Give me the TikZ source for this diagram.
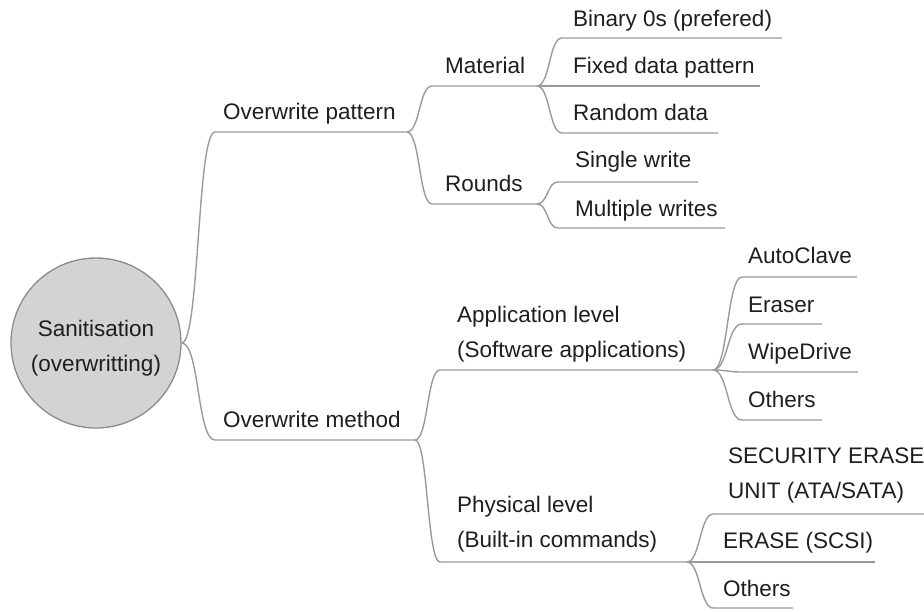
\documentclass[tikz,border=0pt]{standalone}
\usepackage{fontspec}
\setmainfont{Liberation Sans}
\definecolor{linecol}{HTML}{9A9A9A}
\definecolor{txt}{HTML}{1E1E1E}
\definecolor{rootfill}{HTML}{D3D3D3}
\definecolor{rootborder}{HTML}{8C8C8C}
\begin{document}
\begin{tikzpicture}[x=1pt,y=-1pt,
  lbl/.style={anchor=base west, inner sep=0pt, text=txt, font=\fontsize{22.5}{35}\selectfont, align=left},
  conn/.style={draw=linecol, line width=1.4pt},
  rootnode/.style={circle, fill=rootfill, draw=rootborder, line width=1.3pt, minimum size=170pt, inner sep=0pt},
  roottext/.style={anchor=base, inner sep=0pt, text=txt, font=\fontsize{22.5}{35}\selectfont, align=center}
]
\useasboundingbox (0,0) rectangle (924,611);
\node[rootnode] (root) at (96,343) {};
\node[roottext] (rootlbl) at (96,371) {Sanitisation\\(overwritting)};

% level 1
\node[lbl] (op) at (223,119) {Overwrite pattern};
\coordinate (op-s) at (215,132); \coordinate (op-e) at (407,132);
\node[lbl] (om) at (223,427) {Overwrite method};
\coordinate (om-s) at (215,440); \coordinate (om-e) at (415,440);

% level 2
\node[lbl] (mat) at (445,73) {Material};
\coordinate (mat-s) at (432,86); \coordinate (mat-e) at (537,86);
\node[lbl] (rnd) at (445,191) {Rounds};
\coordinate (rnd-s) at (432,204); \coordinate (rnd-e) at (537,204);
\node[lbl] (app) at (457,357) {Application level\\(Software applications)};
\coordinate (app-s) at (440,370); \coordinate (app-e) at (713,370);
\node[lbl] (phy) at (457,547) {Physical level\\(Built-in commands)};
\coordinate (phy-s) at (440,562); \coordinate (phy-e) at (687,562);

% level 3
\node[lbl] (bin) at (573,26) {Binary 0s (prefered)};
\coordinate (bin-s) at (562,38); \coordinate (bin-e) at (782,38);
\node[lbl] (fix) at (573,73) {Fixed data pattern};
\coordinate (fix-s) at (562,86); \coordinate (fix-e) at (760,86);
\node[lbl] (ran) at (573,120) {Random data};
\coordinate (ran-s) at (562,133); \coordinate (ran-e) at (718,133);
\node[lbl] (sw) at (575,167) {Single write};
\coordinate (sw-s) at (558,182); \coordinate (sw-e) at (698,182);
\node[lbl] (mw) at (575,216) {Multiple writes};
\coordinate (mw-s) at (558,228); \coordinate (mw-e) at (725,228);

\node[lbl] (auto) at (748,263) {AutoClave};
\coordinate (auto-s) at (742,277); \coordinate (auto-e) at (857,277);
\node[lbl] (era) at (748,312) {Eraser};
\coordinate (era-s) at (742,324); \coordinate (era-e) at (822,324);
\node[lbl] (wipe) at (748,359) {WipeDrive};
\coordinate (wipe-s) at (742,372); \coordinate (wipe-e) at (858,372);
\node[lbl] (oth1) at (748,407) {Others};
\coordinate (oth1-s) at (742,420); \coordinate (oth1-e) at (822,420);

\node[lbl] (sec) at (728,498) {SECURITY ERASE\\UNIT (ATA/SATA)};
\coordinate (sec-s) at (713,514); \coordinate (sec-e) at (924,514);
\node[lbl] (scsi) at (723,548) {ERASE (SCSI)};
\coordinate (scsi-s) at (713,562); \coordinate (scsi-e) at (875,562);
\node[lbl] (oth2) at (723,596) {Others};
\coordinate (oth2-s) at (713,608); \coordinate (oth2-e) at (793,608);

% connectors
\draw[conn] (root.east) .. controls +(18,0) and +(-18,0) .. (op-s) -- (op-e);
\draw[conn] (root.east) .. controls +(18,0) and +(-18,0) .. (om-s) -- (om-e);

\draw[conn] (op-e) .. controls +(13,0) and +(-13,0) .. (mat-s) -- (mat-e);
\draw[conn] (op-e) .. controls +(13,0) and +(-13,0) .. (rnd-s) -- (rnd-e);
\draw[conn] (om-e) .. controls +(13,0) and +(-13,0) .. (app-s) -- (app-e);
\draw[conn] (om-e) .. controls +(13,0) and +(-13,0) .. (phy-s) -- (phy-e);

\draw[conn] (mat-e) .. controls +(13,0) and +(-13,0) .. (bin-s) -- (bin-e);
\draw[conn] (mat-e) .. controls +(13,0) and +(-13,0) .. (fix-s) -- (fix-e);
\draw[conn] (mat-e) .. controls +(13,0) and +(-13,0) .. (ran-s) -- (ran-e);
\draw[conn] (rnd-e) .. controls +(11,0) and +(-11,0) .. (sw-s) -- (sw-e);
\draw[conn] (rnd-e) .. controls +(11,0) and +(-11,0) .. (mw-s) -- (mw-e);

\draw[conn] (app-e) .. controls +(15,0) and +(-15,0) .. (auto-s) -- (auto-e);
\draw[conn] (app-e) .. controls +(15,0) and +(-15,0) .. (era-s) -- (era-e);
\draw[conn] (app-e) .. controls +(15,0) and +(-15,0) .. (wipe-s) -- (wipe-e);
\draw[conn] (app-e) .. controls +(15,0) and +(-15,0) .. (oth1-s) -- (oth1-e);

\draw[conn] (phy-e) .. controls +(13,0) and +(-13,0) .. (sec-s) -- (sec-e);
\draw[conn] (phy-e) .. controls +(13,0) and +(-13,0) .. (scsi-s) -- (scsi-e);
\draw[conn] (phy-e) .. controls +(13,0) and +(-13,0) .. (oth2-s) -- (oth2-e);
\end{tikzpicture}
\end{document}
